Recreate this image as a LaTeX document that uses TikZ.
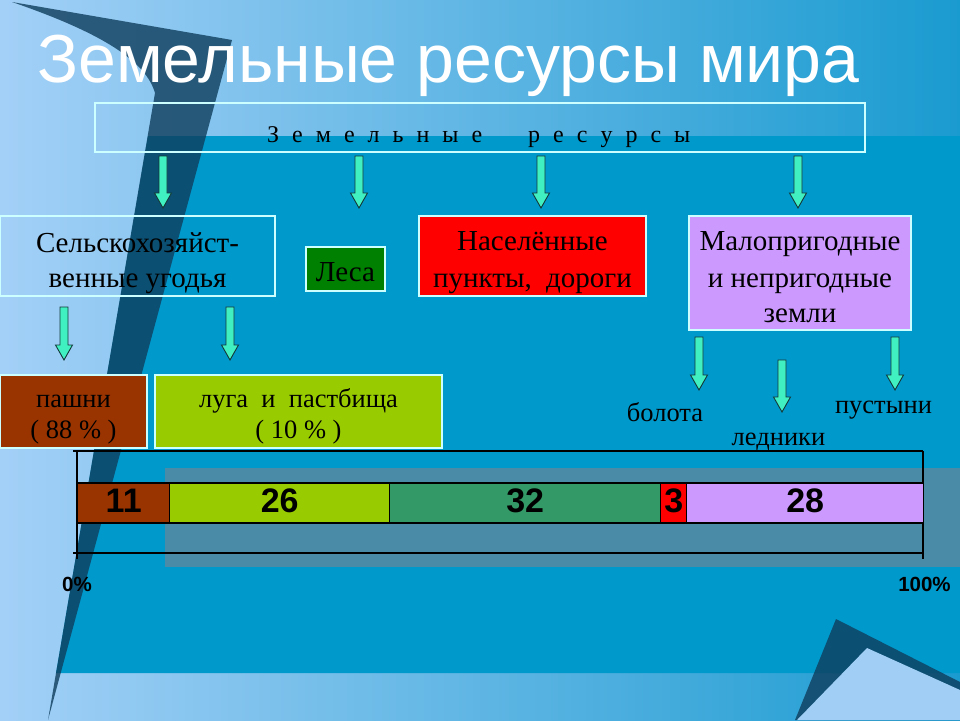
\documentclass[tikz,border=0pt]{standalone}
\usepackage{fontspec}
\setmainfont{Liberation Serif}
\newfontfamily\arialf{Liberation Sans}
\usetikzlibrary{calc}
\definecolor{bgL}{HTML}{A3D0F7}
\definecolor{bgR}{HTML}{1A9BD0}
\definecolor{mainblue}{HTML}{0099CC}
\definecolor{wedgec}{HTML}{0E3D5C}
\definecolor{lightpoly}{HTML}{A0CEF5}
\definecolor{stripc}{HTML}{4A8CA8}
\definecolor{boxline}{HTML}{CCFFFF}
\definecolor{brownc}{HTML}{993300}
\definecolor{limec}{HTML}{99CC00}
\definecolor{forestc}{HTML}{008000}
\definecolor{seagreen}{HTML}{339966}
\definecolor{lavc}{HTML}{CC99FF}
\definecolor{arrfill}{HTML}{40F0C0}
\definecolor{arrline}{HTML}{143838}
\tikzset{
  box/.style={draw=boxline, line width=1.2pt, inner sep=0pt},
  bigtxt/.style={inner sep=0pt, anchor=base, font=\fontsize{29}{35}\selectfont},
  midtxt/.style={inner sep=0pt, anchor=base, font=\fontsize{26.5}{31}\selectfont},
  seg/.style={draw=black, line width=1.4pt, inner sep=0pt, minimum height=40pt,
    text height=24.4pt, text depth=5pt,
    anchor=west, font=\arialf\bfseries\fontsize{34}{36}\selectfont},
  axisline/.style={draw=black, line width=1.4pt},
  arrowbody/.style={fill=arrfill, draw=arrline, line width=0.9pt, line join=miter},
  pct/.style={inner sep=0pt, anchor=base, font=\arialf\bfseries\fontsize{20.5}{23}\selectfont}
}
\newcommand\blockarr[2]{%
  \path[arrowbody] let \p1=(#1), \p2=(#2) in
    (\x1-4pt,\y1) -- (\x1+4pt,\y1) -- (\x1+4pt,\y2+15pt) -- (\x1+8.5pt,\y2+15pt)
    -- (\x2,\y2) -- (\x1-8.5pt,\y2+15pt) -- (\x1-4pt,\y2+15pt) -- cycle;}
\newcommand\gp{\hspace{13pt}}
\begin{document}
\begin{tikzpicture}[x=1pt,y=-1pt]
\useasboundingbox (0,0) rectangle (960,720);
% background
\shade[left color=bgL, right color=bgR] (0,0) rectangle (960,720);
\fill[mainblue] (148,136) -- (960,136) -- (960,673) -- (56,673) -- cycle;
\fill[wedgec, opacity=0.8] (12,2) -- (232,40) -- (48,720) -- (155,93)
  .. controls (146,62) and (105,34) .. (12,2);
\fill[wedgec, opacity=0.8] (836,619) -- (960,682) -- (960,720) -- (795,720) -- cycle;
\fill[lightpoly] (867,648) -- (960,690) -- (960,720) -- (797,720) -- cycle;
% chart strip
\fill[stripc] (165,468) rectangle (960,567);

% title
\node[anchor=base west, inner sep=0pt, text=white,
  font=\arialf\fontsize{68}{72}\selectfont] (title) at (37,82) {Земельные ресурсы мира};

% top box
\node[box, minimum width=770pt, minimum height=49pt] (top) at (480,127.5) {};
\node[inner sep=0pt, anchor=base west, font=\fontsize{24}{26}\selectfont] (toptxt1) at (267,142)
  {З\gp е\gp м\gp е\gp л\gp ь\gp н\gp ы\gp е};
\node[inner sep=0pt, anchor=base west, font=\fontsize{24}{26}\selectfont] (toptxt2) at (528,142)
  {р\gp е\gp с\gp у\gp р\gp с\gp ы};

% second row
\node[box, minimum width=275pt, minimum height=80pt] (agri) at (137.5,256) {};
\node[bigtxt] (agri1) at (137.5,252) {Сельскохозяйст-};
\node[bigtxt] (agri2) at (137.5,287) {венные угодья};

\node[box, fill=forestc, minimum width=79pt, minimum height=44pt] (forest) at (345.5,269) {};
\node[bigtxt] (forestt) at (345.5,281) {Леса};

\node[box, fill=red, minimum width=227pt, minimum height=80pt] (settle) at (532.5,256) {};
\node[bigtxt] (settle1) at (532.5,250) {Населённые};
\node[bigtxt] (settle2) at (532.5,287) {пункты,\ \ дороги};

\node[box, fill=lavc, minimum width=222pt, minimum height=114pt] (waste) at (800,273) {};
\node[bigtxt] (waste1) at (800,250) {Малопригодные};
\node[bigtxt] (waste2) at (800,287) {и непригодные};
\node[bigtxt] (waste3) at (800,322) {земли};

% third row
\node[box, fill=brownc, minimum width=147pt, minimum height=73pt] (arable) at (73.5,411.5) {};
\node[midtxt] (arable1) at (73.5,407) {пашни};
\node[midtxt] (arable2) at (73.5,438) {( 88 \% )};

\node[box, fill=limec, minimum width=287pt, minimum height=73pt] (meadow) at (298.5,411.5) {};
\node[midtxt] (meadow1) at (298.5,407) {луга\ \ и\ \ пастбища};
\node[midtxt] (meadow2) at (298.5,438) {( 10 \% )};

\node[midtxt] (swamp) at (665,421) {болота};
\node[midtxt] (glacier) at (778.5,445) {ледники};
\node[midtxt] (desert) at (883.5,413) {пустыни};

% arrows
\coordinate (a1s) at (163,156); \coordinate (a1e) at (163,208);
\coordinate (a2s) at (359,156); \coordinate (a2e) at (359,208);
\coordinate (a3s) at (541,156); \coordinate (a3e) at (541,208);
\coordinate (a4s) at (798,156); \coordinate (a4e) at (798,208);
\coordinate (a5s) at (64,307);  \coordinate (a5e) at (64,360);
\coordinate (a6s) at (230,307); \coordinate (a6e) at (230,360);
\coordinate (a7s) at (699,337); \coordinate (a7e) at (699,390);
\coordinate (a8s) at (782,360); \coordinate (a8e) at (782,412);
\coordinate (a9s) at (895,337); \coordinate (a9e) at (895,390);
\blockarr{a1s}{a1e}
\blockarr{a2s}{a2e}
\blockarr{a3s}{a3e}
\blockarr{a4s}{a4e}
\blockarr{a5s}{a5e}
\blockarr{a6s}{a6e}
\blockarr{a7s}{a7e}
\blockarr{a8s}{a8e}
\blockarr{a9s}{a9e}

% chart frame
\draw[axisline] (73,451) -- (923,451);
\draw[axisline] (73,553) -- (923,553);
\draw[axisline] (77,451) -- (77,559);
\draw[axisline] (923,451) -- (923,559);

% bar
\node[seg, fill=brownc, minimum width=92pt] (b1) at (77,503) {11};
\node[seg, fill=limec, minimum width=220pt] (b2) at (169,503) {26};
\node[seg, fill=seagreen, minimum width=271pt] (b3) at (389,503) {32};
\node[seg, fill=red, minimum width=26pt] (b4) at (660,503) {3};
\node[seg, fill=lavc, minimum width=237pt] (b5) at (686,503) {28};

\node[pct] (p0) at (77,591) {0\%};
\node[pct] (p100) at (924.5,591) {100\%};
\end{tikzpicture}
\end{document}
